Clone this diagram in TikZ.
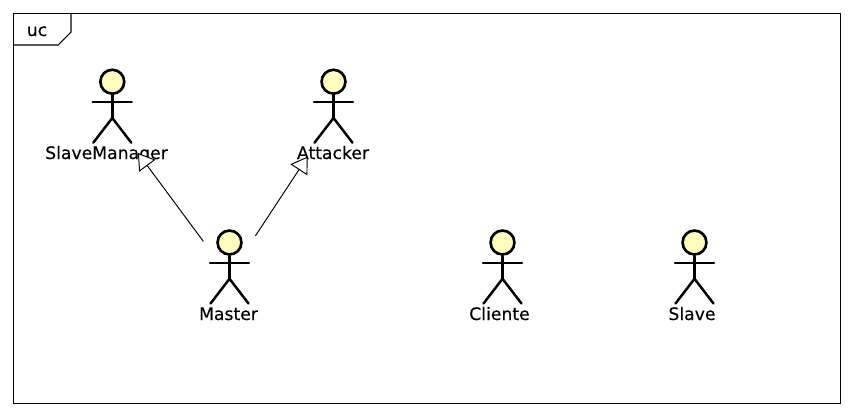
\documentclass[tikz,border=0pt]{standalone}
\usepackage{fontspec}
\newfontfamily\umlfont{DejaVu Sans}[FakeBold=0.3]
\usetikzlibrary{arrows.meta,positioning}

\tikzset{
  frameline/.style={line width=0.6pt, draw=black},
  stickline/.style={line width=1.4pt, draw=black, line cap=round},
  headnode/.style={circle, draw=black, line width=1.5pt, fill=yellow!25, minimum size=13.6pt, inner sep=0pt},
  actorlabel/.style={font=\umlfont\fontsize{9.8}{11}\selectfont, inner sep=0pt, anchor=base},
  generalize/.style={line width=0.55pt, -{Triangle[fill=white, length=9pt, width=11.5pt, line width=0.55pt]}}
}

\begin{document}
\begin{tikzpicture}[x=0.02cm, y=-0.02cm]
    \useasboundingbox (0,0) rectangle (853,414);
    \fill[white] (0,0) rectangle (853,414);

    % Outer frame and tag
    \draw[frameline] (13.5,13.5) rectangle (840.5,403.5);
    \draw[frameline] (13.5,45) -- (58,45) -- (71,32) -- (71,13.5);
    \node[actorlabel] (uc) at (37,36) {uc};

    % Actors: name, head x, head y
    \foreach \name/\x/\y in {slavemanager/112.3/81.7, attacker/333.5/81.7, master/229.5/242.5, cliente/502.5/242.5, slave/694.5/242.5} {
        \node[headnode] (\name) at (\x,\y) {};
        \draw[stickline] (\name.south) -- ++(0,23) coordinate (\name hip);
        \draw[stickline] (\x-19.5,\y+20.3) -- (\x+19.5,\y+20.3);
        \draw[stickline] (\x-19,\y+61) -- (\name hip) -- (\x+19,\y+61);
    }

    % Labels
    \node[actorlabel] (slavemanager label) at (106.5,159) {SlaveManager};
    \node[actorlabel] (attacker label) at (333,159) {Attacker};
    \node[actorlabel] (master label) at (228.5,320) {Master};
    \node[actorlabel] (cliente label) at (499.5,320) {Cliente};
    \node[actorlabel] (slave label) at (692,320) {Slave};

    % Generalizations
    \coordinate (master centre) at (229,276);
    \coordinate (slavemanager centre) at (112,118);
    \coordinate (attacker centre) at (333,118);
    \draw[generalize, shorten <=24.5pt, shorten >=24.8pt] (master centre) -- (slavemanager centre);
    \draw[generalize, shorten <=27.3pt, shorten >=26.3pt] (master centre) -- (attacker centre);
\end{tikzpicture}
\end{document}
